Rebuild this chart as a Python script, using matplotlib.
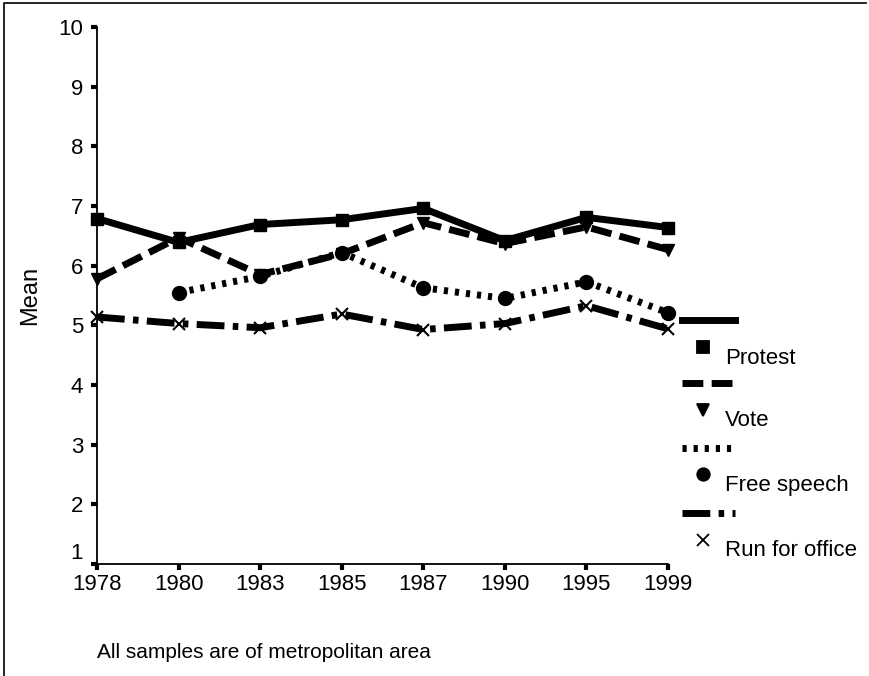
import matplotlib.pyplot as plt
from matplotlib.lines import Line2D
import numpy as np

plt.rcParams['font.family'] = ['Liberation Sans', 'DejaVu Sans']

years = ['1978', '1980', '1983', '1985', '1987', '1990', '1995', '1999']
protest = [6.79, 6.39, 6.69, 6.77, 6.96, 6.42, 6.81, 6.64]
vote = [5.78, 6.47, 5.85, 6.20, 6.72, 6.37, 6.65, 6.27]
free_speech = [np.nan, 5.55, 5.82, 6.22, 5.63, 5.45, 5.73, 5.21]
run_office = [5.14, 5.03, 4.96, 5.19, 4.93, 5.03, 5.33, 4.94]

series = [
    ('Protest', protest, '-', 's', 9),
    ('Vote', vote, (0, (3.0, 1.2)), 'v', 9),
    ('Free speech', free_speech, (0, (0.6, 1.0)), 'o', 10),
    ('Run for office', run_office, (0, (4.0, 1.2, 0.8, 1.2)), 'x', 9),
]

fig = plt.figure(figsize=(8.69, 6.76), dpi=100)
ax = fig.add_axes([0.1116, 0.1657, 0.6571, 0.7943])

x = np.arange(len(years))
for name, vals, ls, mk, ms in series:
    ax.plot(x, vals, color='black', linestyle=ls, linewidth=5,
            marker=mk, markersize=ms, markeredgewidth=1.5 if mk == 'x' else 1,
            markerfacecolor='black', markeredgecolor='black', clip_on=False)

ax.set_xlim(0, len(years) - 1)
ax.set_ylim(1, 10)
ax.set_xticks(x)
ax.set_xticklabels(years)
ax.set_yticks(range(1, 11))
for s in ['top', 'right']:
    ax.spines[s].set_visible(False)
for s in ['left', 'bottom']:
    ax.spines[s].set_linewidth(1.3)
ax.tick_params(axis='both', direction='out', length=4, width=3, labelsize=16, pad=3)
ax.tick_params(axis='y', pad=6)
ax.get_yticklabels()[0].set_va('bottom')
ax.set_ylabel('Mean', fontsize=17, labelpad=12)

# Excel-style legend: line sample, then marker with label
leg_x0, leg_x1 = 682 / 869, 735 / 869
line_y = [320, 383, 448, 513]
mark_y = [347, 410, 474, 540]
for (name, vals, ls, mk, ms), ly, my in zip(series, line_y, mark_y):
    fy = 1 - ly / 676
    fig.add_artist(Line2D([leg_x0, leg_x1], [fy, fy], color='black',
                          linestyle=ls, linewidth=5, transform=fig.transFigure))
    fm = 1 - my / 676
    fig.add_artist(Line2D([703 / 869], [fm], color='black', marker=mk,
                          markersize=9, markeredgewidth=1.3,
                          linestyle='none', transform=fig.transFigure))
    fig.text(725 / 869, 1 - (my + 11) / 676, name, fontsize=16, va='center', ha='left')

fig.text(97 / 869, 1 - 652 / 676, 'All samples are of metropolitan area',
         fontsize=15, va='center', ha='left')

# frame around the figure
fig.add_artist(Line2D([4 / 869, 4 / 869, 866 / 869], [0, 1 - 3 / 676, 1 - 3 / 676],
                      color='black', linewidth=1.2, transform=fig.transFigure))

fig.savefig('out.png', dpi=100)
